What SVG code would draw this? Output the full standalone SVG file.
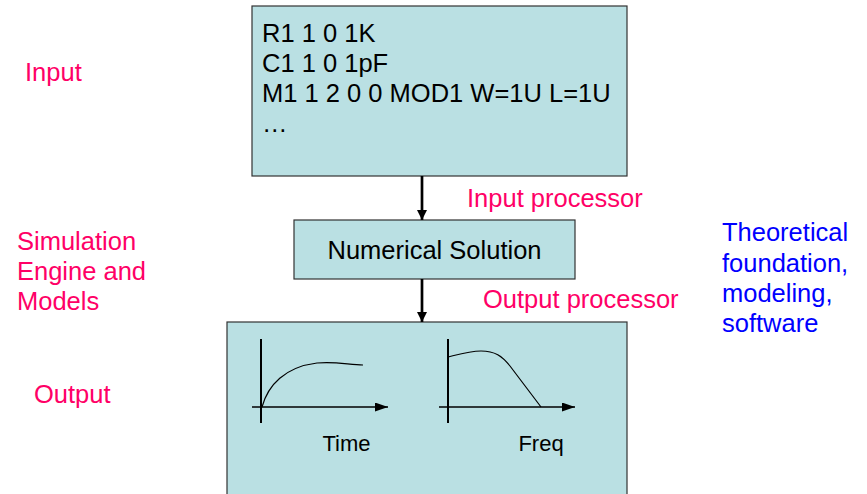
<svg xmlns="http://www.w3.org/2000/svg" width="867" height="494" viewBox="0 0 867 494">
<style>
.box{fill:#BAE0E3;stroke:#333;stroke-width:1.2}
.t{font-family:"Liberation Sans",Arial,sans-serif;font-size:25.5px;fill:#000}
.s{font-family:"Liberation Sans",Arial,sans-serif;font-size:22px;fill:#000}
.pink{font-family:"Liberation Sans",Arial,sans-serif;font-size:25.5px;fill:#FF0066}
.blue{font-family:"Liberation Sans",Arial,sans-serif;font-size:25.5px;fill:#0000FF}
.conn{stroke:#000;stroke-width:2.7;fill:none}
.axis{stroke:#000;stroke-width:2;fill:none}
.haxis{stroke:#000;stroke-width:1.3;fill:none}
.curve{stroke:#000;stroke-width:1.2;fill:none}
</style>
<defs>
<marker id="ah" markerUnits="userSpaceOnUse" markerWidth="10" markerHeight="12" refX="10" refY="5" orient="auto">
<path d="M0,0 L10,5 L0,10 Z" fill="#000"/>
</marker>
<marker id="ah2" markerUnits="userSpaceOnUse" markerWidth="14" markerHeight="10" refX="13" refY="4.5" orient="auto">
<path d="M0,0 L13,4.5 L0,9 Z" fill="#000"/>
</marker>
</defs>
<rect width="867" height="494" fill="#fff"/>
<g id="labels">
<text class="pink" x="25" y="81">Input</text>
<text class="pink" x="17" y="250">Simulation</text>
<text class="pink" x="17" y="280">Engine and</text>
<text class="pink" x="17" y="310">Models</text>
<text class="pink" x="34" y="403">Output</text>
<text class="blue" x="722" y="241">Theoretical</text>
<text class="blue" x="722" y="272">foundation,</text>
<text class="blue" x="722" y="302">modeling,</text>
<text class="blue" x="722" y="332">software</text>
</g>
<g id="input-node">
<rect class="box" x="252" y="6" width="375" height="170"/>
<text class="t" x="262" y="42">R1 1 0 1K</text>
<text class="t" x="262" y="72">C1 1 0 1pF</text>
<text class="t" x="262" y="102">M1 1 2 0 0 MOD1 W=1U L=1U</text>
<text class="t" x="262" y="132">…</text>
</g>
<g id="numerical-node">
<rect class="box" x="294" y="220" width="281" height="59"/>
<text class="t" x="434.5" y="259" text-anchor="middle">Numerical Solution</text>
</g>
<g id="output-node">
<rect class="box" x="227" y="322" width="400" height="180"/>
<line class="axis" x1="261" y1="339" x2="261" y2="423"/>
<line class="haxis" x1="252" y1="407" x2="388" y2="407" marker-end="url(#ah2)"/>
<path class="curve" d="M262,407 C268,385 285,367 317,363 C335,361 350,365 363,365"/>
<text class="s" x="346.5" y="451" text-anchor="middle">Time</text>
<line class="axis" x1="448" y1="339" x2="448" y2="423"/>
<line class="haxis" x1="439" y1="407" x2="575" y2="407" marker-end="url(#ah2)"/>
<path class="curve" d="M448,357 C460,354 470,351 481,351 C495,351 502,356 510,366 L541,407"/>
<text class="s" x="541" y="451" text-anchor="middle">Freq</text>
</g>
<g id="connectors">
<line class="conn" x1="422" y1="176" x2="422" y2="220" marker-end="url(#ah)"/>
<line class="conn" x1="422" y1="279" x2="422" y2="322" marker-end="url(#ah)"/>
<text class="pink" x="467" y="207">Input processor</text>
<text class="pink" x="483" y="308">Output processor</text>
</g>
</svg>
